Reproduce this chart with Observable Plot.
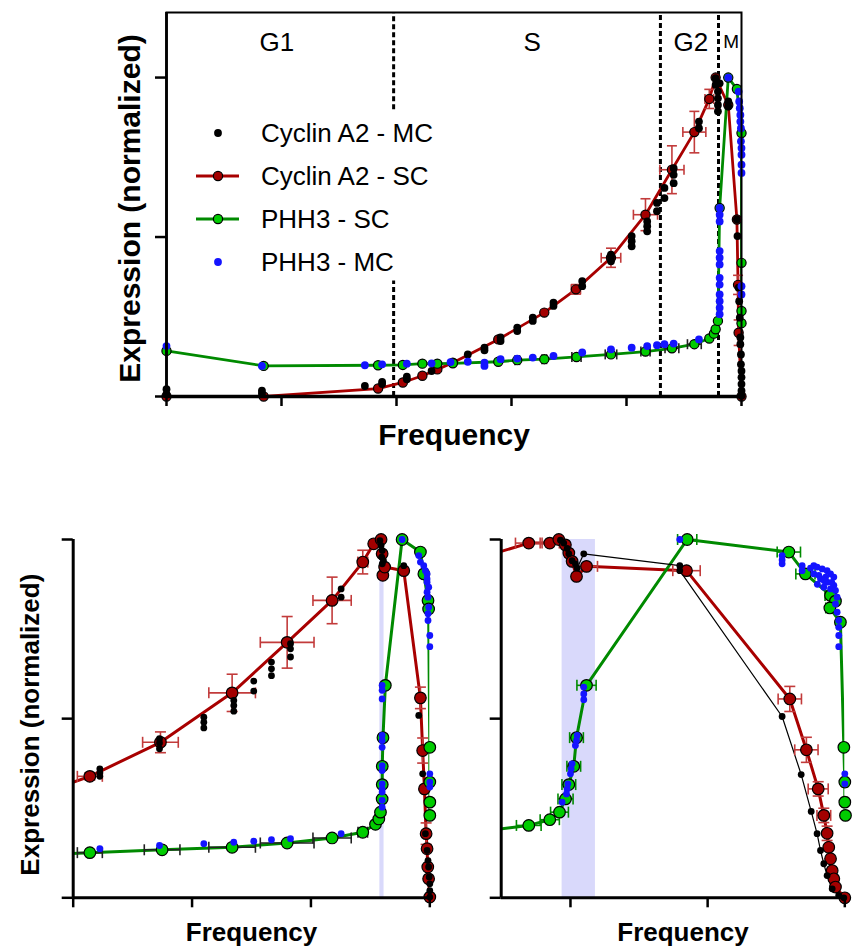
<!DOCTYPE html>
<html><head><meta charset="utf-8">
<script src="https://cdn.jsdelivr.net/npm/d3@7"></script>
<script src="https://cdn.jsdelivr.net/npm/@observablehq/plot@0.6"></script>
<style>
body{margin:0;background:#fff;}
#wrap{position:relative;width:854px;height:948px;font-family:"Liberation Sans",Arial,sans-serif;}
#wrap > svg{position:absolute;}
</style></head><body><div id="wrap"></div>
<script>
// ---------------- DATA ----------------
const legendLabels = ["Cyclin A2 - MC", "Cyclin A2 - SC", "PHH3 - SC", "PHH3 - MC"];
const xLabel = "Frequency";
const yLabel = "Expression (normalized)";
const phaseNames = ["G1", "S", "G2", "M"];
const phaseNameX = [19.2, 63.6, 91.2, 98.2];
const phaseLineX  = [39.5, 39.5, 85.9, 96.0];
const phaseLineY1 = [0, 0.899, 0, 0];
const phaseLineY2 = [0.362, 1.204, 1.204, 1.204];

const topXDomain = [0, 100], topYDomain = [0, 1.204];
const topXTicks = [0, 20, 40, 60, 80, 100];
const yTicks = [0, 0.5, 1];
const blXDomain = [0, 3], blXTicks = [0, 1, 2, 3];
const brXDomain = [-0.505, 2.0], brXTicks = [0, 1, 2];
const blBand = [2.58, 2.615];
const brBand = [-0.061, 0.182];

// [x, y, xerr, yerr]
const topA2SC = [
 [0,0,0,0],[16.9,0,0,0],[36.8,0.025,0,0],[41.1,0.044,0,0],[44.5,0.065,0,0],[47.1,0.085,0,0],
 [49.8,0.106,0,0],[57.7,0.179,0,0],[65.7,0.263,0,0],[71.2,0.336,0.8,0.015],[77.3,0.435,1.7,0.03],
 [83.3,0.570,2.1,0.05],[87.9,0.711,2.1,0.075],[91.8,0.829,2.0,0.065],[94.4,0.933,0.75,0.03],
 [95.5,1.0,0,0],[97.7,0.914,0,0],[99.2,0.555,0,0],[99.4,0.35,0,0.03],[99.5,0.20,0,0.04],[100,0,0,0]
];
const topPHSC = [
 [0,0.143],[16.9,0.096],[36.8,0.098],[41.1,0.099],[44.5,0.103],[47.1,0.103],[49.8,0.104],
 [57.7,0.109],[61.0,0.114,0.4],[65.7,0.117,0.4],[71.3,0.124,0.8],[77.3,0.132,1.0],[83.3,0.141,0.8],
 [87.9,0.151,1.2],[91.8,0.164,1.2],[94.4,0.182],[95.2,0.197],[95.5,0.211],[95.9,0.237],
 [96.2,0.591],[97.7,1.0],[99.2,0.964],[100,0.826],[100,0.419],[100,0.268],[100,0.23]
];
const topA2MC = [
 [0,0.023],[0,0.007],[16.6,0.018],[16.6,0.009],[34.5,0.033],[37.5,0.046],[37.5,0.039],[41.8,0.062],
 [41.8,0.054],[46.1,0.080],[52.4,0.132],[55.3,0.153],[55.3,0.145],[58.1,0.185],[58.1,0.174],
 [61.0,0.216],[61.0,0.205],[63.7,0.247],[63.7,0.237],[67.3,0.294],[67.3,0.284],[72.3,0.362],
 [72.3,0.346],[77.3,0.445],[77.3,0.435],[77.3,0.424],[80.9,0.503],[80.9,0.487],[80.9,0.471],
 [83.6,0.549],[83.6,0.534],[83.6,0.518],[85.3,0.607],[85.3,0.581],[86.6,0.654],[86.6,0.622],
 [88.2,0.716],[88.2,0.695],[88.2,0.669],[92.6,0.862],[92.6,0.841],[95.5,0.998],[95.5,0.977],
 [95.9,0.956],[95.9,0.935],[95.9,0.914],[95.9,0.894],[96.2,0.982],[97.7,0.925],[97.7,0.909],
 [99.2,0.555],[99.3,0.503],[99.5,0.341],[99.6,0.299],[99.7,0.247],[99.8,0.185],[99.8,0.164],
 [99.9,0.132],[99.9,0.101],[100,0.080],[100,0.060],[100,0.039],[100,0.018],[100,0.002]
];
const topPHMC = [
 [0,0.158],[16.6,0.096],[34.5,0.098],[37.5,0.101],[41.8,0.103],[46.1,0.104],[49.4,0.108],
 [52.4,0.109],[55.3,0.106],[55.3,0.096],[58.1,0.117],[61.0,0.119],[63.7,0.122],[67.3,0.127],
 [72.3,0.138],[77.3,0.148],[80.9,0.153],[83.6,0.158],[85.3,0.161],[86.6,0.164],[88.2,0.166],
 [92.6,0.179],
 [96.2,0.591],[96.2,0.570],[96.2,0.549],[96.2,0.456],[96.2,0.435],[96.2,0.414],[96.2,0.372],
 [96.2,0.351],[96.2,0.320],[96.2,0.299],[96.2,0.278],[96.2,0.258],
 [97.7,1.0],
 [99.5,0.956],[99.6,0.925],[99.7,0.904],[99.8,0.883],[99.8,0.862],[99.9,0.841],[99.9,0.800],
 [100,0.779],[100,0.758],[100,0.727],[100,0.701],[100,0.346],[100,0.320]
];

const blA2SC = [
 [-0.15,0.305,0,0],[0.140,0.339,0.105,0.01],[0.734,0.434,0.15,0.029],[1.337,0.572,0.196,0.052],
 [1.800,0.713,0.226,0.072],[2.178,0.830,0.161,0.065],[2.436,0.937,0.042,0.033],[2.528,0.988,0,0],
 [2.590,1.0,0,0],[2.599,0.96,0,0],[2.605,0.900,0,0],[2.62,0.923,0,0],[2.781,0.913,0,0],
 [2.921,0.558,0,0.03],[2.94,0.411,0,0.035],[2.955,0.304,0,0],[2.969,0.179,0,0.03],
 [2.977,0.137,0,0],[2.983,0.086,0,0],[2.99,0.053,0,0],[3.0,0.002,0,0]
];
const blPHSC = [
 [-0.15,0.122],[0.140,0.126,0.105],[0.748,0.134,0.15],[1.337,0.141,0.196],[1.800,0.153,0.226],
 [2.178,0.167,0.161],[2.436,0.183,0.04],[2.543,0.205],[2.571,0.220],[2.585,0.239],[2.599,0.276],
 [2.60,0.316],[2.60,0.367],[2.606,0.447],[2.626,0.593,0.02],[2.767,1.0],[2.921,0.965],[2.95,0.904],
 [2.985,0.830],[2.99,0.806],[3.0,0.42],[3.0,0.323],[3.0,0.267],[3.0,0.23]
];
const blA2MC = [
 [0.224,0.360],[0.224,0.349],[0.224,0.339],[0.726,0.444],[0.726,0.432],[0.726,0.416],
 [1.099,0.504],[1.099,0.490],[1.099,0.474],[1.351,0.551],[1.351,0.537],[1.351,0.521],
 [1.519,0.605],[1.519,0.577],[1.668,0.658],[1.668,0.639],[1.668,0.620],[1.828,0.709],
 [1.828,0.695],[1.828,0.672],[2.254,0.862],[2.254,0.839],[2.58,0.997],[2.59,0.983],[2.60,0.969],
 [2.595,0.951],[2.61,0.941],[2.60,0.932],[2.781,0.927],[2.907,0.509],[2.94,0.346],
 [2.963,0.179],[2.977,0.132],[2.985,0.104],[2.99,0.086],[2.995,0.058],[3.0,0.039],[3.0,0.020],[3.0,0.002]
];
const blPHMC = [
 [0.224,0.137],[0.726,0.146],[1.099,0.151],[1.351,0.155],[1.519,0.158],[1.668,0.162],[1.828,0.165],
 [2.254,0.179],
 [2.599,0.593],[2.599,0.579],[2.599,0.555],[2.599,0.453],[2.599,0.439],[2.599,0.420],[2.599,0.369],
 [2.599,0.355],[2.599,0.318],[2.599,0.304],[2.599,0.295],[2.599,0.272],[2.599,0.253],
 [2.767,1.0],
 [2.907,0.955],[2.921,0.937],[2.949,0.927],[2.963,0.913],[2.977,0.904],[2.977,0.890],[2.977,0.881],
 [2.991,0.867],[2.977,0.853],[2.985,0.839],[2.991,0.811],[2.985,0.793],[2.985,0.774],[3.0,0.732],
 [3.0,0.701],[3.0,0.346],[3.0,0.323],[3.0,0.309]
];

const brA2SC = [
 [-0.6,0.956,0,0],[-0.304,0.990,0.097,0],[-0.151,0.990,0.07,0],[-0.085,1.0,0,0],[-0.037,0.985,0,0],
 [-0.012,0.962,0,0],[0.012,0.939,0,0],[0.044,0.897,0,0],[0.117,0.925,0.08,0],[0.846,0.913,0.1,0],
 [1.599,0.555,0.085,0.035],[1.720,0.413,0.085,0.035],[1.806,0.304,0.073,0.02],[1.847,0.230,0.05,0.02],
 [1.871,0.180,0,0.02],[1.883,0.141,0,0],[1.896,0.109,0,0],[1.908,0.076,0,0],[1.920,0.053,0,0],
 [1.932,0.030,0,0],[2.0,0.0,0,0]
];
const brPHSC = [
 [-0.6,0.188],[-0.304,0.202,0.09],[-0.151,0.218,0.07],[-0.080,0.239,0.065],[-0.036,0.276,0.055],
 [-0.012,0.316,0.05],[0.024,0.367,0.05],[0.044,0.447,0.05],[0.117,0.593,0.07],[0.851,1.0,0.07],
 [1.592,0.965,0.085],[1.713,0.904,0.07],[1.896,0.844,0.04],[1.932,0.828],[1.891,0.809,0.03],[1.968,0.769],
 [1.993,0.420],[2.0,0.323,0.02],[2.0,0.267,0.02],[2.005,0.230]
];
const brA2MC = [
 [-0.073,0.998],[-0.049,0.99],[-0.024,0.975],[-0.012,0.96],[0.012,0.941],[0.036,0.932],[0.049,0.92],
 [0.097,0.960],[0.797,0.927],[0.797,0.913],[1.543,0.506],[1.682,0.344],[1.755,0.241],[1.798,0.179],
 [1.823,0.132],[1.847,0.095],[1.871,0.062],[1.908,0.025],[1.956,0.007],[1.993,0.0]
];
const brPHMC = [
 [0.797,1.0],[1.543,0.955],[1.543,0.943],[1.543,0.932],[1.689,0.927],[1.689,0.913],[1.774,0.927],
 [1.798,0.923],[1.835,0.918],[1.871,0.913],[1.896,0.904],[1.920,0.895],[1.774,0.904],[1.823,0.890],
 [1.871,0.881],[1.920,0.872],[1.847,0.867],[1.896,0.862],[1.932,0.858],[1.944,0.839],[1.932,0.820],
 [1.944,0.797],[1.956,0.774],[1.956,0.755],[1.956,0.732],[1.956,0.701],[2.0,0.346],[2.0,0.318],
 [1.750,0.920],[1.810,0.900],[1.860,0.895],[1.905,0.880],[1.800,0.875],[1.850,0.885],
 [0.097,0.588],[0.097,0.569],[0.097,0.553],[0.049,0.453],[0.044,0.439],[0.036,0.425],[0.012,0.374],
 [0.005,0.360],[0.0,0.346],[-0.019,0.318],[-0.024,0.304],[-0.029,0.290],[-0.061,0.267]
];

// ---------------- STYLE ----------------
const FONT = '"Liberation Sans", Arial, sans-serif';
const RED = "#a80000", RED_FILL = "#a30000", RED_ERR = "#c23b3b";
const GREEN = "#008a00", GREEN_FILL = "#00cc00", BLUE = "#1414ff";

const capV = {draw(ctx, size){const h = Math.sqrt(size/Math.PI); ctx.moveTo(0,-h); ctx.lineTo(0,h);}};
const capH = {draw(ctx, size){const h = Math.sqrt(size/Math.PI); ctx.moveTo(-h,0); ctx.lineTo(h,0);}};

function errBars(data, color, capR, w){
  const hx = data.filter(d => d[2] > 0), hy = data.filter(d => d[3] > 0);
  const o = {stroke: color, strokeWidth: w, fill: "none"};
  return [
    Plot.link(hx, {x1: d => d[0]-d[2], x2: d => d[0]+d[2], y1: d => d[1], y2: d => d[1], ...o}),
    Plot.dot(hx, {x: d => d[0]-d[2], y: d => d[1], symbol: capV, r: capR, ...o}),
    Plot.dot(hx, {x: d => d[0]+d[2], y: d => d[1], symbol: capV, r: capR, ...o}),
    Plot.link(hy, {x1: d => d[0], x2: d => d[0], y1: d => d[1]-d[3], y2: d => d[1]+d[3], ...o}),
    Plot.dot(hy, {x: d => d[0], y: d => d[1]-d[3], symbol: capH, r: capR, ...o}),
    Plot.dot(hy, {x: d => d[0], y: d => d[1]+d[3], symbol: capH, r: capR, ...o})
  ];
}

function seriesMarks(p){
  const inX = d => d[0] >= p.xMin;
  const m = [
    Plot.line(p.a2sc, {x: d => d[0], y: d => d[1], stroke: RED, strokeWidth: p.lw, clip: true}),
    Plot.line(p.phsc, {x: d => d[0], y: d => d[1], stroke: GREEN, strokeWidth: p.lw, clip: true})
  ];
  if (p.mcLine) m.push(Plot.line(p.a2mc, {x: d => d[0], y: d => d[1], stroke: "black", strokeWidth: 1.2}));
  m.push(
    ...errBars(p.a2sc, RED_ERR, p.capR, 1.6),
    ...errBars(p.phsc, p.phErr, p.capR, 1.6),
    Plot.dot(p.a2sc, {filter: inX, x: d => d[0], y: d => d[1], r: p.scR, fill: RED_FILL, stroke: "black", strokeWidth: 1.2}),
    Plot.dot(p.phsc, {filter: inX, x: d => d[0], y: d => d[1], r: p.scR, fill: GREEN_FILL, stroke: "black", strokeWidth: 1.2}),
    Plot.dot(p.a2mc, {x: d => d[0], y: d => d[1], r: p.mcR, fill: "black"}),
    Plot.dot(p.phmc, {x: d => d[0], y: d => d[1], r: p.mcR, fill: BLUE})
  );
  return m;
}

const wrap = document.getElementById("wrap");
const baseStyle = {fontFamily: FONT, background: "transparent", overflow: "visible"};

// ---------------- TOP PANEL ----------------
const topPlot = Plot.plot({
  width: 854, height: 465, marginLeft: 166, marginRight: 113, marginTop: 12, marginBottom: 69,
  x: {domain: topXDomain}, y: {domain: topYDomain},
  style: baseStyle,
  marks: [
    Plot.ruleX(d3.range(phaseLineX.length), {x: i => phaseLineX[i], y1: i => phaseLineY1[i], y2: i => phaseLineY2[i],
      stroke: "black", strokeWidth: 3, strokeDasharray: "5,3"}),
    ...seriesMarks({a2sc: topA2SC, phsc: topPHSC, a2mc: topA2MC, phmc: topPHMC, xMin: topXDomain[0],
      lw: 2.8, scR: 4.6, mcR: 3.9, capR: 5, phErr: "#222"}),
    Plot.frame({stroke: "black", strokeWidth: 2}),
    Plot.ruleX([topXDomain[0]], {stroke: "black", strokeWidth: 2.8}),
    Plot.ruleY([topYDomain[0]], {stroke: "black", strokeWidth: 3.5}),
    Plot.axisY({ticks: yTicks, tickSize: 11, tickFormat: () => "", label: null, strokeWidth: 2.5}),
    Plot.axisX({ticks: topXTicks, tickSize: 10, tickFormat: () => "", label: null, strokeWidth: 2.5}),
    Plot.text(phaseNames.filter(n => n !== "M"), {text: d => d, x: d => phaseNameX[phaseNames.indexOf(d)],
      frameAnchor: "top", dy: 30, lineAnchor: "middle", fontSize: 26, fill: "black"}),
    Plot.text(phaseNames.filter(n => n === "M"), {text: d => d, x: d => phaseNameX[phaseNames.indexOf(d)],
      frameAnchor: "top", dy: 29, lineAnchor: "middle", fontSize: 19, fill: "black"}),
    Plot.text([xLabel], {text: d => d, frameAnchor: "bottom", textAnchor: "middle", lineAnchor: "middle",
      dy: 39, fontSize: 30, fontWeight: "bold", fill: "black"}),
    Plot.text([yLabel], {text: d => d, frameAnchor: "left", textAnchor: "middle", lineAnchor: "middle",
      dx: -36, dy: 4, rotate: -90, fontSize: 30, fontWeight: "bold", fill: "black"})
  ]
});
topPlot.style.left = "0px"; topPlot.style.top = "0px";
wrap.appendChild(topPlot);

// legend (inside top panel)
const lg = d3.select(wrap).append("svg").attr("width", 854).attr("height", 465)
  .style("left", "0px").style("top", "0px").style("pointer-events", "none");
const legendKinds = [
  {dot: "black", r: 3.9},
  {line: RED, dot: RED_FILL, r: 4.6, stroke: "black"},
  {line: GREEN, dot: GREEN_FILL, r: 4.6, stroke: "black"},
  {dot: BLUE, r: 3.9}
];
legendLabels.forEach((lab, i) => {
  const k = legendKinds[i], cy = 133 + i * 43;
  if (k.line) lg.append("line").attr("x1", 196).attr("x2", 239).attr("y1", cy).attr("y2", cy)
      .attr("stroke", k.line).attr("stroke-width", 3);
  lg.append("circle").attr("cx", 218).attr("cy", cy).attr("r", k.r).attr("fill", k.dot)
      .attr("stroke", k.stroke || "none").attr("stroke-width", 1.2);
  lg.append("text").attr("x", 261).attr("y", cy).attr("dy", "0.36em").attr("font-size", 26)
      .attr("font-family", FONT).attr("fill", "black").text(lab);
});

// ---------------- BOTTOM LEFT ----------------
const blPlot = Plot.plot({
  width: 440, height: 468, marginLeft: 72.7, marginRight: 10.7, marginTop: 59, marginBottom: 50.7,
  x: {domain: blXDomain}, y: {domain: [0, 1]},
  style: baseStyle,
  marks: [
    Plot.rect([blBand], {x1: d => d[0], x2: d => d[1], fill: "#d9d9fb"}),
    ...seriesMarks({a2sc: blA2SC, phsc: blPHSC, a2mc: blA2MC, phmc: blPHMC, xMin: blXDomain[0],
      lw: 3, scR: 5.8, mcR: 3.4, capR: 5.5, phErr: "#222"}),
    Plot.ruleX([blXDomain[0]], {stroke: "black", strokeWidth: 3}),
    Plot.ruleY([0], {stroke: "black", strokeWidth: 3}),
    Plot.axisY({ticks: yTicks, tickSize: 11, tickFormat: () => "", label: null, strokeWidth: 2.5}),
    Plot.axisX({ticks: blXTicks, tickSize: 10, tickFormat: () => "", label: null, strokeWidth: 2.5}),
    Plot.text([xLabel], {text: d => d, frameAnchor: "bottom", textAnchor: "middle", lineAnchor: "middle",
      dy: 35, fontSize: 26, fontWeight: "bold", fill: "black"}),
    Plot.text([yLabel], {text: d => d, frameAnchor: "left", textAnchor: "middle", lineAnchor: "middle",
      dx: -43, dy: 6, rotate: -90, fontSize: 26, fontWeight: "bold", fill: "black"})
  ]
});
blPlot.style.left = "0px"; blPlot.style.top = "480px";
wrap.appendChild(blPlot);

// ---------------- BOTTOM RIGHT ----------------
const brPlot = Plot.plot({
  width: 414, height: 468, marginLeft: 60.7, marginRight: 9.7, marginTop: 59, marginBottom: 50.7,
  x: {domain: brXDomain}, y: {domain: [0, 1]},
  style: baseStyle,
  marks: [
    Plot.rect([brBand], {x1: d => d[0], x2: d => d[1], fill: "#d9d9fb"}),
    ...seriesMarks({a2sc: brA2SC, phsc: brPHSC, a2mc: brA2MC, phmc: brPHMC, xMin: brXDomain[0],
      lw: 3, scR: 5.8, mcR: 3.4, capR: 5.5, phErr: GREEN, mcLine: true}),
    Plot.ruleX([brXDomain[0]], {stroke: "black", strokeWidth: 3}),
    Plot.ruleY([0], {stroke: "black", strokeWidth: 3}),
    Plot.axisY({ticks: yTicks, tickSize: 11, tickFormat: () => "", label: null, strokeWidth: 2.5}),
    Plot.axisX({ticks: brXTicks, tickSize: 10, tickFormat: () => "", label: null, strokeWidth: 2.5}),
    Plot.text([xLabel], {text: d => d, frameAnchor: "bottom", textAnchor: "middle", lineAnchor: "middle",
      dx: 10, dy: 35, fontSize: 26, fontWeight: "bold", fill: "black"})
  ]
});
brPlot.style.left = "440px"; brPlot.style.top = "480px";
wrap.appendChild(brPlot);
</script></body></html>
